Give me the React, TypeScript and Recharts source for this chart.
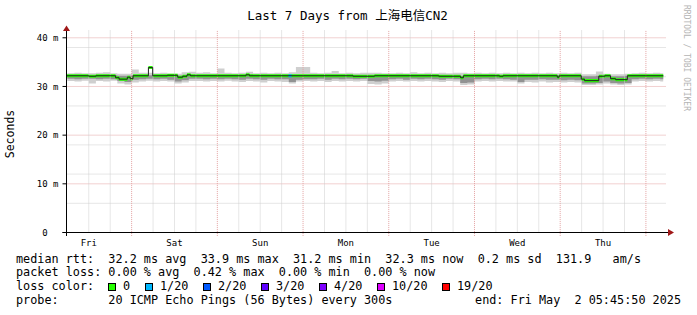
import { ComposedChart, Area, Line, XAxis, YAxis, CartesianGrid, ReferenceLine } from "recharts";

const FONT = "'DejaVu Sans Mono', 'Noto Sans CJK SC', monospace";

const title = "Last 7 Days from 上海电信CN2";

// time axis: hours since Fri 00:00, window ends Fri May 2 05:45:50
const startHour = 5.764;
const endHour = 173.764;
const dayNames = ["Fri", "Sat", "Sun", "Mon", "Tue", "Wed", "Thu"];
const dayTicks = [12, 36, 60, 84, 108, 132, 156];
const midnightHours = [24, 48, 72, 96, 120, 144, 168];
const sixHourMarks = [12, 18, 30, 36, 42, 54, 60, 66, 78, 84, 90, 102, 108, 114, 126, 132, 138, 150, 156, 162];

const yMin = 0;
const yMax = 41.6;
const yTicks = [0, 10, 20, 30, 40];
const yMajor = [10, 20, 30, 40];
const yMinor = [2, 4, 6, 8, 12, 14, 16, 18, 22, 24, 26, 28, 32, 34, 36, 38];

// median rtt (ms), step changes
const medianHours = [5.76, 12, 14, 19.5, 20.5, 22.8, 23.6, 24.4, 28.7, 29.9, 34, 36.9, 38.3, 39.5, 40.5, 56, 57, 86, 92, 110, 116.1, 116.9, 127, 128, 143.2, 143.7, 149.9, 150.8, 154.8, 156.5, 158.1, 159.5, 162.8, 172.85];
const medianValues = [32.2, 32.1, 32.2, 31.8, 31.5, 31.9, 31.6, 32.2, 33.9, 32.2, 32.3, 31.9, 32.1, 32.4, 32.2, 32.4, 32.2, 32.1, 32.2, 32.1, 31.8, 32.2, 32.1, 32.2, 31.9, 32.2, 31.5, 31.2, 32.1, 32.2, 31.6, 31.4, 32.2, 32.2];

// the one sample with 1/20 loss
const lossHours = [67.9, 68.8];
const lossValues = [32.2, 32.2];

// smoke (ping spread)
const smokeHours = [
  6, 8, 10, 12, 14, 16, 18, 20, 22, 24,
  26, 28, 30, 32, 34, 36, 38, 40, 42, 44,
  46, 48, 50, 52, 54, 56, 58, 60, 62, 64,
  66, 68, 70, 72, 74, 76, 78, 80, 82, 84,
  86, 88, 90, 92, 94, 96, 98, 100, 102, 104,
  106, 108, 110, 112, 114, 116, 118, 120, 122, 124,
  126, 128, 130, 132, 134, 136, 138, 140, 142, 144,
  146, 148, 150, 152, 154, 156, 158, 160, 162, 164,
  166, 168, 170, 172, 172.85,
];
const lightLo = [
  31.1, 31.0, 31.2, 30.6, 31.1, 31.0, 31.2, 30.6, 30.4, 30.8,
  31.0, 31.2, 31.0, 31.1, 31.0, 30.6, 30.8, 31.1, 31.1, 31.0,
  31.1, 31.0, 31.2, 31.0, 30.9, 31.1, 31.0, 30.8, 31.1, 31.0,
  30.9, 30.6, 31.0, 31.1, 31.0, 31.1, 30.9, 31.1, 31.0, 31.1,
  31.0, 31.1, 30.5, 30.4, 30.6, 31.0, 31.1, 31.0, 31.1, 31.0,
  31.1, 31.0, 30.9, 31.1, 31.0, 30.3, 30.4, 31.0, 31.1, 31.0,
  31.1, 31.0, 31.0, 30.6, 30.9, 30.8, 31.0, 30.8, 30.9, 30.8,
  30.9, 30.8, 30.3, 30.3, 30.4, 30.6, 30.4, 30.3, 30.4, 31.0,
  31.1, 31.0, 31.1, 31.0, 31.0,
];
const lightHi = [
  32.7, 32.8, 32.7, 32.7, 32.8, 32.9, 32.7, 32.6, 32.6, 33.5,
  32.8, 32.8, 32.7, 32.8, 32.6, 32.6, 32.9, 33.0, 32.8, 32.9,
  32.7, 33.7, 32.8, 32.7, 32.8, 33.0, 32.7, 32.8, 32.7, 32.8,
  32.7, 32.9, 34.0, 34.0, 32.8, 32.7, 32.8, 33.2, 32.7, 32.8,
  32.7, 32.8, 32.8, 32.8, 32.7, 32.7, 32.8, 32.7, 32.9, 32.7,
  32.8, 32.7, 32.8, 32.7, 32.8, 32.8, 32.7, 32.8, 32.7, 32.8,
  32.7, 32.8, 32.7, 32.8, 32.7, 32.8, 32.7, 32.8, 32.7, 32.8,
  32.7, 32.8, 32.5, 32.5, 33.1, 32.6, 32.5, 32.5, 32.6, 32.7,
  32.8, 32.7, 32.8, 32.7, 32.7,
];
const darkLo = [
  31.6, 31.5, 31.6, 31.6, 31.5, 31.6, 31.5, 31.1, 30.9, 31.4,
  31.5, 31.6, 31.5, 31.6, 31.4, 31.0, 31.3, 31.6, 31.6, 31.5,
  31.6, 31.5, 31.6, 31.5, 31.4, 31.6, 31.5, 31.4, 31.6, 31.5,
  31.5, 30.9, 31.4, 31.5, 31.5, 31.6, 31.4, 31.6, 31.5, 31.6,
  31.5, 31.6, 31.1, 31.0, 31.2, 31.5, 31.6, 31.4, 31.6, 31.5,
  31.6, 31.5, 31.4, 31.6, 31.5, 30.7, 30.8, 31.5, 31.6, 31.5,
  31.6, 31.5, 31.4, 30.9, 31.4, 31.4, 31.5, 31.4, 31.4, 31.3,
  31.4, 31.3, 30.6, 30.6, 30.7, 31.0, 30.7, 30.6, 30.7, 31.5,
  31.6, 31.5, 31.6, 31.5, 31.5,
];
const darkHi = [
  32.3, 32.3, 32.3, 32.3, 32.3, 32.4, 32.3, 32.2, 32.2, 32.3,
  32.3, 32.3, 32.3, 32.3, 32.3, 32.2, 32.3, 32.4, 32.3, 32.3,
  32.3, 32.4, 32.3, 32.3, 32.3, 32.5, 32.3, 32.3, 32.3, 32.3,
  32.3, 32.3, 32.3, 32.3, 32.3, 32.3, 32.3, 32.3, 32.3, 32.3,
  32.3, 32.3, 32.3, 32.3, 32.3, 32.3, 32.3, 32.3, 32.3, 32.3,
  32.3, 32.3, 32.3, 32.3, 32.3, 32.2, 32.3, 32.3, 32.3, 32.3,
  32.3, 32.3, 32.3, 32.3, 32.3, 32.3, 32.3, 32.3, 32.3, 32.3,
  32.3, 32.3, 32.1, 32.1, 32.2, 32.2, 32.1, 32.1, 32.2, 32.3,
  32.3, 32.3, 32.3, 32.3, 32.3,
];

const lossLabels = ["0", "1/20", "2/20", "3/20", "4/20", "10/20", "19/20"];
const lossColors = ["#26ff00", "#00b8ff", "#0059ff", "#5e00ff", "#7e00ff", "#dd00ff", "#ff0000"];

const legendLines = [
  "median rtt:  32.2 ms avg  33.9 ms max  31.2 ms min  32.3 ms now  0.2 ms sd  131.9   am/s",
  "packet loss: 0.00 % avg  0.42 % max  0.00 % min  0.00 % now",
  "loss color:",
  "probe:       20 ICMP Echo Pings (56 Bytes) every 300s",
];
const endLabel = "end: Fri May  2 05:45:50 2025";

// layout
const W = 697;
const H = 315;
const PLOT_LEFT = 66.5;
const PLOT_RIGHT = 666.5;
const PLOT_TOP = 30;
const PLOT_BOTTOM = 232.5;
const X_AXIS_H = 20;
const HALF_LINE = 0.31; // half of the 3px median line, in ms
const TICK_BELOW = 0.7; // major x grid pokes ~3px under the axis

const MINOR = "#cdcdcd";
const MAJOR = "#e3a2a2";

const smokeData = smokeHours.map((h, i) => ({
  h,
  light: [lightLo[i], lightHi[i]],
  dark: [darkLo[i], darkHi[i]],
}));
const medianData = medianHours.map((h, i) => ({
  h,
  v: medianValues[i],
  band: [medianValues[i] - HALF_LINE, medianValues[i] + HALF_LINE],
}));
const lossData = lossHours.map((h, i) => ({
  h,
  band: [lossValues[i] - HALF_LINE, lossValues[i] + HALF_LINE],
}));

function YTick(props: any) {
  const { x, y, payload } = props;
  const v = payload.value;
  return (
    <text x={v === 0 ? x - 10.8 : x} y={y} dy="0.35em" textAnchor="end" fontFamily={FONT} fontSize={9} fill="#000">
      {v === 0 ? "0" : `${v} m`}
    </text>
  );
}

function Overlay() {
  const boxX = [108.5, 145.5, 203.5, 261.5, 319.5, 377.5, 442.5];
  const base = [262.5, 276.3, 290.1, 303.9];
  return (
    <svg width={W} height={H} style={{ position: "absolute", left: 0, top: 0, pointerEvents: "none" }}>
      <text x={347.5} y={19.5} textAnchor="middle" fontFamily={FONT} fontSize={12.5} fill="#000">
        {title}
      </text>
      <text transform="translate(14,134) rotate(-90)" textAnchor="middle" fontFamily={FONT} fontSize={11.5} fill="#000">
        Seconds
      </text>
      <text transform="translate(684,5) rotate(90)" fontFamily={FONT} fontSize={8} fill="#b4b4b4">
        RRDTOOL / TOBI OETIKER
      </text>

      {/* axes */}
      <line x1={62.5} y1={PLOT_BOTTOM} x2={669} y2={PLOT_BOTTOM} stroke="#000" strokeWidth={1} />
      <polygon points={`668,229 674,${PLOT_BOTTOM} 668,236`} fill="#a01818" />
      <line x1={PLOT_LEFT} y1={236} x2={PLOT_LEFT} y2={31} stroke="#000" strokeWidth={1} />
      <polygon points={`63,31 ${PLOT_LEFT},25.5 70,31`} fill="#a01818" />

      {legendLines.map((t, i) => (
        <text key={i} x={16} y={base[i]} fontFamily={FONT} fontSize={11.8} fill="#000" style={{ whiteSpace: "pre" }}>
          {t}
        </text>
      ))}
      <text x={681} y={base[3]} textAnchor="end" fontFamily={FONT} fontSize={11.8} fill="#000" style={{ whiteSpace: "pre" }}>
        {endLabel}
      </text>
      {lossLabels.map((l, i) => (
        <g key={l}>
          <rect x={boxX[i]} y={283.5} width={7} height={7} fill={lossColors[i]} stroke="#000" strokeWidth={1} />
          <text x={boxX[i] + 14.5} y={base[2]} fontFamily={FONT} fontSize={11.8} fill="#000">
            {l}
          </text>
        </g>
      ))}
    </svg>
  );
}

export default function App() {
  return (
    <div style={{ position: "absolute", left: 0, top: 0, width: W, height: H, background: "#fff" }}>
      <ComposedChart
        width={W}
        height={H}
        margin={{ top: PLOT_TOP, right: W - PLOT_RIGHT, bottom: H - PLOT_BOTTOM - X_AXIS_H, left: 0 }}
      >
        <CartesianGrid horizontalValues={yMinor} vertical={false} stroke={MINOR} strokeDasharray="1 1" />
        <CartesianGrid horizontalValues={yMajor} vertical={false} stroke={MAJOR} strokeDasharray="1 1" />
        <XAxis
          type="number"
          dataKey="h"
          domain={[startHour, endHour]}
          allowDataOverflow
          ticks={dayTicks}
          tickFormatter={(v: number) => dayNames[dayTicks.indexOf(v)]}
          axisLine={false}
          tickLine={false}
          tickSize={0}
          tickMargin={7}
          height={X_AXIS_H}
          tick={{ fontFamily: FONT, fontSize: 9, fill: "#000" }}
        />
        <YAxis
          type="number"
          domain={[yMin, yMax]}
          allowDataOverflow
          ticks={yTicks}
          width={PLOT_LEFT}
          axisLine={false}
          tickSize={4}
          tickMargin={4}
          tickLine={{ stroke: "#000" }}
          tick={<YTick />}
        />
        {sixHourMarks.map((h) => (
          <ReferenceLine key={`m${h}`} x={h} stroke={MINOR} strokeDasharray="1 1" />
        ))}
        {midnightHours.map((h) => (
          <ReferenceLine
            key={`d${h}`}
            segment={[
              { x: h, y: yMin - TICK_BELOW },
              { x: h, y: yMax },
            ]}
            ifOverflow="visible"
            stroke={MAJOR}
            strokeDasharray="1 1"
          />
        ))}
        <Area
          data={smokeData}
          dataKey="light"
          type="stepAfter"
          stroke="none"
          fill="#cfcfcf"
          fillOpacity={1}
          isAnimationActive={false}
          activeDot={false}
        />
        <Area
          data={smokeData}
          dataKey="dark"
          type="stepAfter"
          stroke="none"
          fill="#929292"
          fillOpacity={1}
          isAnimationActive={false}
          activeDot={false}
        />
        <Line
          data={medianData}
          dataKey="v"
          type="stepAfter"
          stroke="#202020"
          strokeWidth={1}
          dot={false}
          activeDot={false}
          isAnimationActive={false}
        />
        <Area
          data={medianData}
          dataKey="band"
          type="stepAfter"
          stroke="none"
          fill="#26ff00"
          fillOpacity={1}
          isAnimationActive={false}
          activeDot={false}
        />
        <Area
          data={lossData}
          dataKey="band"
          type="stepAfter"
          stroke="none"
          fill="#00b8ff"
          fillOpacity={1}
          isAnimationActive={false}
          activeDot={false}
        />
      </ComposedChart>
      <Overlay />
    </div>
  );
}
